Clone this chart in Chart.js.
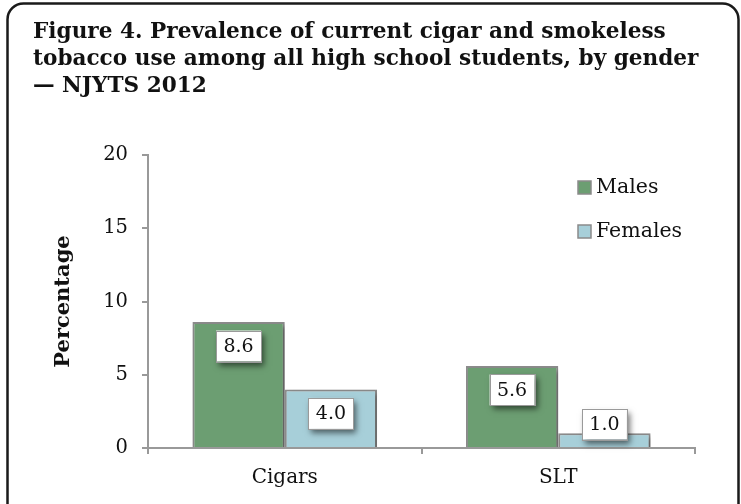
<!DOCTYPE html>
<html>
<head>
<meta charset="utf-8">
<script src="https://cdn.jsdelivr.net/npm/chart.js@4/dist/chart.umd.min.js"></script>
<style>
  html, body { margin: 0; padding: 0; background: #fff; }
  #wrap { position: relative; width: 741px; height: 504px; }
  canvas { display: block; }
</style>
</head>
<body>
<div id="wrap"><canvas id="c" width="741" height="504"></canvas></div>
<script>
const categories = ["Cigars", "SLT"];
const seriesNames = ["Males", "Females"];
const malesValues = [8.6, 5.6];
const femalesValues = [4.0, 1.0];
const yTicks = [0, 5, 10, 15, 20];
const titleLines = [
  "Figure 4. Prevalence of current cigar and smokeless",
  "tobacco use among all high school students, by gender",
  "\u2014 NJYTS 2012"
];
const yAxisTitle = "Percentage";

const SERIF = "'DejaVu Serif', 'Liberation Serif', serif";
const colors = ["#6c9e72", "#a7cfd9"];

const framePlugin = {
  id: 'frame',
  beforeDraw(chart) {
    const ctx = chart.ctx;
    ctx.save();
    ctx.fillStyle = '#fff';
    ctx.fillRect(0, 0, chart.width, chart.height);
    // rounded frame
    ctx.strokeStyle = '#1a1a1a';
    ctx.lineWidth = 2.5;
    const x = 7.5, y = 3.5, w = 731, h = 520, r = 16;
    ctx.beginPath();
    ctx.moveTo(x + r, y);
    ctx.lineTo(x + w - r, y);
    ctx.arcTo(x + w, y, x + w, y + r, r);
    ctx.lineTo(x + w, y + h - r);
    ctx.arcTo(x + w, y + h, x + w - r, y + h, r);
    ctx.lineTo(x + r, y + h);
    ctx.arcTo(x, y + h, x, y + h - r, r);
    ctx.lineTo(x, y + r);
    ctx.arcTo(x, y, x + r, y, r);
    ctx.stroke();
    // title
    ctx.fillStyle = '#111';
    ctx.font = "bold 21.6px " + SERIF;
    ctx.textAlign = 'left';
    ctx.textBaseline = 'alphabetic';
    titleLines.forEach((t, i) => ctx.fillText(t, 33, 38 + i * 27));
    // y axis title
    ctx.save();
    ctx.translate(69, (chart.chartArea.top + chart.chartArea.bottom) / 2);
    ctx.rotate(-Math.PI / 2);
    ctx.textAlign = 'center';
    ctx.textBaseline = 'alphabetic';
    ctx.font = "bold 21px " + SERIF;
    ctx.fillText(yAxisTitle, 0, 0);
    ctx.restore();
    ctx.restore();
  },
  beforeDatasetDraw(chart) {
    const ctx = chart.ctx;
    ctx.save();
    ctx.shadowColor = 'rgba(0,0,0,0.35)';
    ctx.shadowBlur = 5;
    ctx.shadowOffsetX = 3;
    ctx.shadowOffsetY = 3;
  },
  afterDatasetDraw(chart) {
    chart.ctx.restore();
  },
  afterDatasetsDraw(chart) {
    const ctx = chart.ctx;
    const base = chart.scales.y.getPixelForValue(0);
    // value labels
    chart.data.datasets.forEach((ds, di) => {
      const meta = chart.getDatasetMeta(di);
      meta.data.forEach((bar, i) => {
        const txt = ds.data[i].toFixed(1);
        const cx = bar.x;
        const cy = Math.min(bar.y + 24, base - 24);
        const bw = 45, bh = 31;
        ctx.save();
        ctx.shadowColor = 'rgba(0,0,0,0.55)';
        ctx.shadowBlur = 6;
        ctx.shadowOffsetX = 3;
        ctx.shadowOffsetY = 4;
        ctx.fillStyle = '#fff';
        ctx.fillRect(cx - bw / 2, cy - bh / 2, bw, bh);
        ctx.restore();
        ctx.save();
        ctx.strokeStyle = '#9a9a9a';
        ctx.lineWidth = 1;
        ctx.strokeRect(Math.round(cx - bw / 2) + 0.5, Math.round(cy - bh / 2) + 0.5, bw, bh);
        ctx.fillStyle = '#111';
        ctx.font = "19px " + SERIF;
        ctx.textAlign = 'center';
        ctx.textBaseline = 'middle';
        ctx.fillText(txt, cx, cy + 1);
        ctx.restore();
      });
    });
    // legend
    ctx.save();
    ctx.font = "20.5px " + SERIF;
    ctx.textAlign = 'left';
    ctx.textBaseline = 'middle';
    chart.data.datasets.forEach((ds, di) => {
      const ly = 188 + di * 44;
      ctx.fillStyle = ds.backgroundColor;
      ctx.fillRect(578, ly - 7, 13, 13);
      ctx.strokeStyle = '#8a8a8a';
      ctx.lineWidth = 1.5;
      ctx.strokeRect(578, ly - 7, 13, 13);
      ctx.fillStyle = '#111';
      ctx.fillText(ds.label, 596, ly);
    });
    ctx.restore();
  }
};

new Chart(document.getElementById('c'), {
  type: 'bar',
  data: {
    labels: categories,
    datasets: [
      { label: seriesNames[0], data: malesValues, backgroundColor: colors[0], borderColor: '#8c8c8c', borderWidth: 2 },
      { label: seriesNames[1], data: femalesValues, backgroundColor: colors[1], borderColor: '#8c8c8c', borderWidth: 2 }
    ]
  },
  options: {
    responsive: false,
    animation: false,
    devicePixelRatio: 1,
    layout: { padding: { left: 0, right: 46, top: 155, bottom: 0 } },
    datasets: { bar: { categoryPercentage: 0.675, barPercentage: 1.0 } },
    plugins: { legend: { display: false }, title: { display: false }, tooltip: { enabled: false } },
    scales: {
      x: {
        afterFit(scale) { scale.height = 56; },
        border: { color: '#999', width: 2 },
        grid: { offset: true, drawOnChartArea: false, drawTicks: true, tickLength: 6, color: '#999', lineWidth: 2 },
        ticks: { color: '#111', font: { family: SERIF, size: 20 }, padding: 12 }
      },
      y: {
        min: 0, max: 20,
        afterFit(scale) { scale.width = 148; },
        afterBuildTicks(scale) { scale.ticks = yTicks.map(v => ({ value: v })); },
        border: { color: '#999', width: 2 },
        grid: { drawOnChartArea: false, drawTicks: true, tickLength: 6, color: '#999', lineWidth: 2 },
        ticks: { color: '#111', font: { family: SERIF, size: 19.5 }, padding: 14 }
      }
    }
  },
  plugins: [framePlugin]
});
</script>
</body>
</html>
